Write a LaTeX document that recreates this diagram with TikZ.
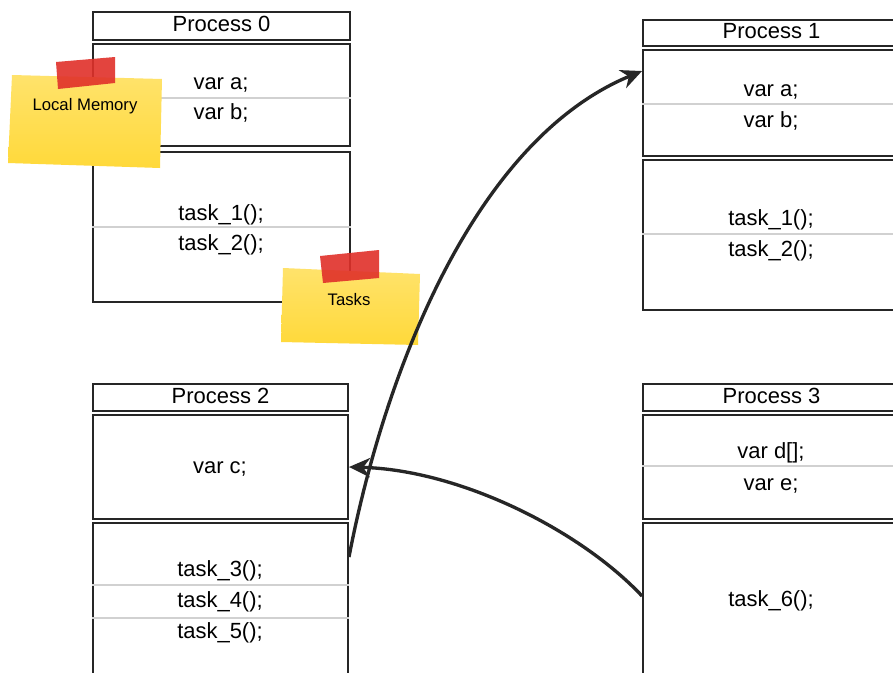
\documentclass[tikz,border=0pt]{standalone}
\usepackage{fontspec}
\setmainfont{Liberation Sans}
\usetikzlibrary{fit,arrows.meta}

\begin{document}
\begin{tikzpicture}[x=0.02cm, y=-0.02cm,
		box/.style={draw=black!85, line width=1.1pt, inner sep=0pt},
		entry/.style={font=\fontsize{12.5}{15}\selectfont, text height=1.6ex, text depth=0.35ex, inner sep=0pt},
		sep/.style={draw=black!18, line width=0.8pt},
		flow/.style={draw=black!85, line width=1.9pt, -{Stealth[length=12pt,width=11pt]}},
		note/.style={top color=noteyellow!75!white, bottom color=noteyellow},
		tape/.style={fill=tapered, opacity=0.9},
		notetext/.style={font=\fontsize{9.5}{11}\selectfont, inner sep=0pt}]
			% Define colors
			\definecolor{noteyellow}{HTML}{FFD93A}   % sticky note
			\definecolor{tapered}{HTML}{E0302A}      % tape on the note
			
			% Page frame
			\clip (0,0) rectangle (893,673);
			\fill[white] (0,0) rectangle (893,673);
			
			% Process 0
			\node[box, fit={(93,12) (350,40)}] (p0head) {};
			\node[box, fit={(93,44) (350,146)}] (p0mem) {};
			\node[box, fit={(93,152) (350,302)}] (p0task) {};
			\draw[sep] (p0mem.west |- 0,98) -- (p0mem.east |- 0,98);
			\draw[sep] (p0task.west |- 0,227) -- (p0task.east |- 0,227);
			\node[entry] (p0name) at (p0head.center) {Process 0};
			\node[entry] (p0a) at (221,84) {var a;};
			\node[entry] (p0b) at (221,114) {var b;};
			\node[entry] (p0t1) at (221,215) {task\_1();};
			\node[entry] (p0t2) at (221,245) {task\_2();};
			
			% Process 1
			\node[box, fit={(643,20) (900,46)}] (p1head) {};
			\node[box, fit={(643,50) (900,156)}] (p1mem) {};
			\node[box, fit={(643,160) (900,310)}] (p1task) {};
			\draw[sep] (p1mem.west |- 0,104) -- (p1mem.east |- 0,104);
			\draw[sep] (p1task.west |- 0,234) -- (p1task.east |- 0,234);
			\node[entry] (p1name) at (p1head.center) {Process 1};
			\node[entry] (p1a) at (771,91) {var a;};
			\node[entry] (p1b) at (771,122) {var b;};
			\node[entry] (p1t1) at (771,220) {task\_1();};
			\node[entry] (p1t2) at (771,251) {task\_2();};
			
			% Process 2
			\node[box, fit={(93,384) (348,411)}] (p2head) {};
			\node[box, fit={(93,415) (348,519)}] (p2mem) {};
			\node[box, fit={(93,523) (348,680)}] (p2task) {};
			\draw[sep] (p2task.west |- 0,585) -- (p2task.east |- 0,585);
			\draw[sep] (p2task.west |- 0,618) -- (p2task.east |- 0,618);
			\node[entry] (p2name) at (p2head.center) {Process 2};
			\node[entry] (p2c) at (220,468) {var c;};
			\node[entry] (p2t3) at (220,571) {task\_3();};
			\node[entry] (p2t4) at (220,602) {task\_4();};
			\node[entry] (p2t5) at (220,633) {task\_5();};
			
			% Process 3
			\node[box, fit={(643,384) (900,411)}] (p3head) {};
			\node[box, fit={(643,415) (900,519)}] (p3mem) {};
			\node[box, fit={(643,523) (900,680)}] (p3task) {};
			\draw[sep] (p3mem.west |- 0,466) -- (p3mem.east |- 0,466);
			\node[entry] (p3name) at (p3head.center) {Process 3};
			\node[entry] (p3d) at (771,453) {var d[];};
			\node[entry] (p3e) at (771,485) {var e;};
			\node[entry] (p3t6) at (771,601) {task\_6();};
			
			% Sticky notes
			\path[note] (12,75) -- (162,79) -- (160,168) -- (8,163) -- cycle;
			\path[tape] (56,62) -- (115,57) -- (115,83) -- (58,89) -- cycle;
			\node[notetext] (memnote) at (85,106) {Local Memory};
			
			\path[note] (283,268) -- (420,274) -- (418,345) -- (281,342) -- cycle;
			\path[tape] (320,256) -- (379,250) -- (379,278) -- (323,283) -- cycle;
			\node[notetext] (tasknote) at (349,300) {Tasks};
			
			% Messages between processes
			\draw[flow] ([yshift=-0.7cm]p2task.north east) .. controls (385,370) and (475,140) .. ([yshift=-0.44cm]p1mem.north west);
			\draw[flow] (p3task.west |- 0,596) .. controls (580,530) and (460,470) .. (p2mem.east);
		\end{tikzpicture}
\end{document}
